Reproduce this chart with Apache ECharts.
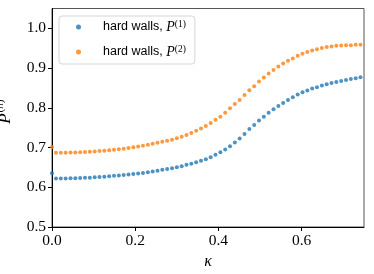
<!DOCTYPE html>
<html>
<head>
<meta charset="utf-8">
<script src="https://cdn.jsdelivr.net/npm/echarts@6/dist/echarts.min.js"></script>
<style>html,body{margin:0;padding:0;background:#fff;}#c{width:374px;height:274px;}</style>
</head>
<body>
<div id="c"></div>
<script>
var kappa = [0.0000,0.0096,0.0212,0.0328,0.0445,0.0561,0.0677,0.0793,0.0909,0.1026,0.1142,0.1258,0.1374,0.1490,0.1607,0.1723,0.1839,0.1955,0.2071,0.2187,0.2304,0.2420,0.2536,0.2652,0.2768,0.2885,0.3001,0.3117,0.3233,0.3349,0.3466,0.3582,0.3698,0.3814,0.3930,0.4047,0.4163,0.4279,0.4395,0.4511,0.4628,0.4744,0.4860,0.4976,0.5092,0.5208,0.5325,0.5441,0.5557,0.5673,0.5789,0.5906,0.6022,0.6138,0.6254,0.6370,0.6487,0.6603,0.6719,0.6835,0.6951,0.7068,0.7184,0.7300,0.7416];
var p1 = [0.6354,0.6220,0.6220,0.6222,0.6225,0.6227,0.6232,0.6237,0.6242,0.6250,0.6258,0.6268,0.6278,0.6288,0.6298,0.6308,0.6321,0.6333,0.6346,0.6361,0.6379,0.6399,0.6419,0.6439,0.6462,0.6480,0.6505,0.6530,0.6566,0.6591,0.6631,0.6667,0.6707,0.6758,0.6818,0.6884,0.6952,0.7035,0.7129,0.7230,0.7338,0.7465,0.7566,0.7679,0.7778,0.7879,0.7962,0.8045,0.8121,0.8197,0.8265,0.8333,0.8391,0.8434,0.8485,0.8518,0.8561,0.8593,0.8626,0.8652,0.8677,0.8702,0.8727,0.8745,0.8770];
var p2 = [0.7015,0.6870,0.6870,0.6870,0.6874,0.6876,0.6880,0.6886,0.6894,0.6901,0.6912,0.6922,0.6932,0.6944,0.6957,0.6972,0.6987,0.7005,0.7025,0.7045,0.7068,0.7093,0.7121,0.7146,0.7172,0.7197,0.7237,0.7273,0.7313,0.7364,0.7424,0.7482,0.7540,0.7616,0.7702,0.7778,0.7879,0.7987,0.8096,0.8197,0.8321,0.8442,0.8543,0.8662,0.8763,0.8864,0.8955,0.9040,0.9116,0.9182,0.9242,0.9308,0.9359,0.9402,0.9444,0.9477,0.9503,0.9528,0.9545,0.9561,0.9571,0.9578,0.9578,0.9586,0.9586];
var xTicks = [0.0, 0.2, 0.4, 0.6];
var yTicks = [0.5, 0.6, 0.7, 0.8, 0.9, 1.0];
var seriesNames = ['hard walls, P(1)', 'hard walls, P(2)'];
var seriesSup = ['1', '2'];

var serif = 'Liberation Serif';
var sans = 'Liberation Sans';

function pairs(xs, ys) { return xs.map(function (x, i) { return [x, ys[i]]; }); }

var chart = echarts.init(document.getElementById('c'), null, {renderer: 'canvas'});
chart.setOption({
  animation: false,
  backgroundColor: '#fff',
  grid: {
    left: 52, right: 10, top: 8.5, bottom: 47,
    show: true, borderColor: '#555', borderWidth: 1,
    outerBoundsMode: 'none', containLabel: false
  },
  legend: {
    orient: 'vertical',
    left: 59, top: 16,
    padding: [3, 9, 4, 17],
    itemWidth: 5, itemHeight: 5, itemGap: 9,
    icon: 'circle',
    backgroundColor: 'rgba(255,255,255,0.8)',
    borderColor: '#d5d5d5', borderWidth: 1, borderRadius: 3,
    data: seriesNames,
    formatter: function (name) {
      var k = seriesNames.indexOf(name);
      return '{t|hard walls, }{p|P}{s|(' + seriesSup[k] + ')}';
    },
    textStyle: {
      color: '#000',
      lineHeight: 16,
      rich: {
        t: {fontFamily: sans, fontSize: 12.5, lineHeight: 16, padding: [0, 0, 0, 17], color: '#000'},
        p: {fontFamily: serif, fontStyle: 'italic', fontSize: 14, lineHeight: 16, color: '#000'},
        s: {fontFamily: serif, fontSize: 9.5, lineHeight: 16, verticalAlign: 'top', color: '#000'}
      }
    }
  },
  xAxis: {
    type: 'value', min: 0, max: 0.75,
    name: 'κ', nameLocation: 'middle', nameGap: 22,
    nameTextStyle: {fontFamily: serif, fontStyle: 'italic', fontSize: 16, color: '#000'},
    axisLine: {show: true, onZero: false, lineStyle: {color: '#000', width: 1}},
    axisTick: {show: true, inside: false, length: 4, customValues: xTicks, lineStyle: {color: '#000'}},
    axisLabel: {
      customValues: xTicks, margin: 6,
      fontFamily: serif, fontSize: 15.5, color: '#000',
      formatter: function (v) { return v.toFixed(1); }
    },
    splitLine: {show: false}
  },
  yAxis: {
    type: 'value', min: 0.5, max: 1.05,
    name: '{p|P}{s|(}{si|n}{s|)}', nameLocation: 'middle', nameGap: 35, nameRotate: 90,
    nameTextStyle: {
      padding: [0, 0, 0, 12],
      rich: {
        p: {fontFamily: serif, fontStyle: 'italic', fontSize: 17, lineHeight: 22, color: '#000', padding: [0, 1, 0, 0]},
        s: {fontFamily: serif, fontSize: 11, lineHeight: 22, verticalAlign: 'top', color: '#000'},
        si: {fontFamily: serif, fontStyle: 'italic', fontSize: 11, lineHeight: 22, verticalAlign: 'top', color: '#000'}
      }
    },
    axisLine: {show: true, onZero: false, lineStyle: {color: '#000', width: 1}},
    axisTick: {show: true, inside: false, length: 4, customValues: yTicks, lineStyle: {color: '#000'}},
    axisLabel: {
      customValues: yTicks, margin: 6,
      fontFamily: serif, fontSize: 15.5, color: '#000',
      formatter: function (v) { return v.toFixed(1); }
    },
    splitLine: {show: false}
  },
  series: [
    {name: seriesNames[0], type: 'scatter', symbol: 'circle', symbolSize: 4,
     itemStyle: {color: '#1f77b4'}, data: pairs(kappa, p1)},
    {name: seriesNames[1], type: 'scatter', symbol: 'circle', symbolSize: 4,
     itemStyle: {color: '#ff7f0e'}, data: pairs(kappa, p2)}
  ]
});
</script>
</body>
</html>
